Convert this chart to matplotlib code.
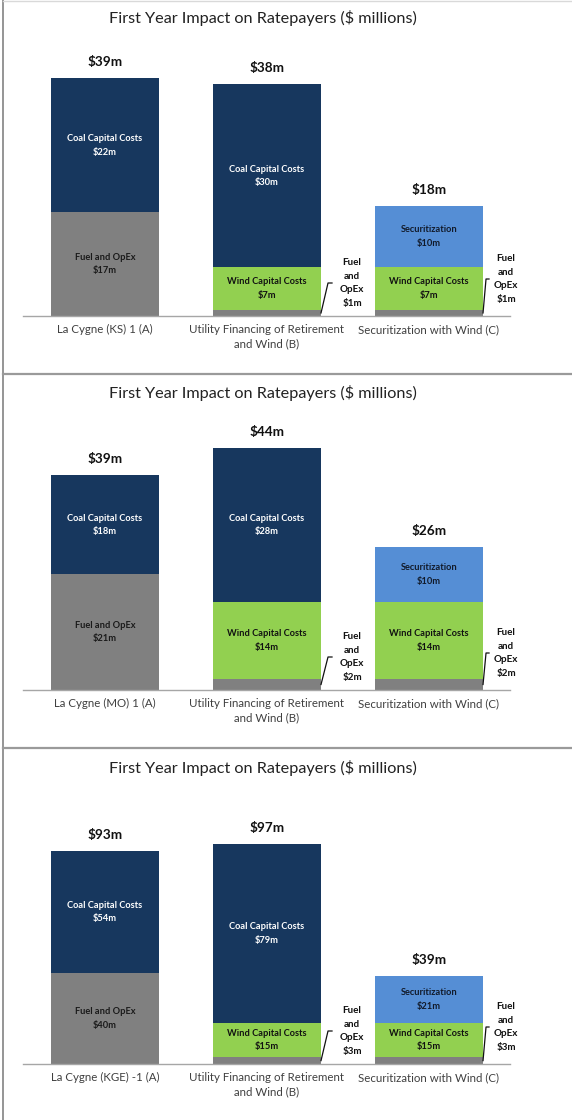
import matplotlib
matplotlib.use("Agg")
import matplotlib.pyplot as plt
from matplotlib.lines import Line2D
from matplotlib.transforms import IdentityTransform

plt.rcParams['font.family'] = ['Lato', 'DejaVu Sans']

# ---------------- data ----------------
panel_categories = [
    ["La Cygne (KS) 1 (A)", "Utility Financing of Retirement\nand Wind (B)", "Securitization with Wind (C)"],
    ["La Cygne (MO) 1 (A)", "Utility Financing of Retirement\nand Wind (B)", "Securitization with Wind (C)"],
    ["La Cygne (KGE) -1 (A)", "Utility Financing of Retirement\nand Wind (B)", "Securitization with Wind (C)"],
]
fuel_opex = [[17, 1, 1], [21, 2, 2], [40, 3, 3]]
wind_capital = [[0, 7, 7], [0, 14, 14], [0, 15, 15]]
coal_capital = [[22, 30, 0], [18, 28, 0], [54, 79, 0]]
securitization = [[0, 0, 10], [0, 0, 10], [0, 0, 21]]
totals = [[39, 38, 18], [39, 44, 26], [93, 97, 39]]
title_text = "First Year Impact on Ratepayers ($ millions)"

series_names = ["Fuel and OpEx", "Wind Capital Costs", "Coal Capital Costs", "Securitization"]
series_colors = ["#808080", "#92D050", "#17375E", "#558ED5"]
series_text_colors = ["#1a1a1a", "#111111", "#ffffff", "#111a2a"]

# ---------------- layout ----------------
W, H = 572, 1120
fig = plt.figure(figsize=(W / 100, H / 100), dpi=100)

def fx(px):
    return px / W

def fy(py):
    return 1 - py / H

baselines = [316, 690, 1064]
title_y = [18, 393, 768]
ymax = [42.0, 46.5, 113.0]
ax_left, ax_right, ax_h = 23, 510, 256
bar_w = 0.667

# panel borders
fig.add_artist(Line2D([fx(3), fx(3)], [0, 1], color="#8c8c8c", lw=1.3, transform=fig.transFigure))
fig.add_artist(Line2D([fx(3), 1], [fy(0.5), fy(0.5)], color="#d9d9d9", lw=1.0, transform=fig.transFigure))
for sep in [374, 748]:
    fig.add_artist(Line2D([fx(3), 1], [fy(sep), fy(sep)], color="#9a9a9a", lw=1.6, transform=fig.transFigure))

for p in range(3):
    yb = baselines[p]
    ax = fig.add_axes([fx(ax_left), fy(yb), fx(ax_right) - fx(ax_left), ax_h / H])
    ax.set_xlim(-0.506, 2.5)
    ax.set_ylim(0, ymax[p])
    for s in ["top", "right", "left"]:
        ax.spines[s].set_visible(False)
    ax.spines["bottom"].set_color("#a6a6a6")
    ax.spines["bottom"].set_linewidth(1.0)
    ax.set_yticks([])
    x = list(range(3))
    ax.set_xticks(x)
    ax.set_xticklabels(panel_categories[p], fontsize=8.3, color="#404040", linespacing=1.35)
    ax.tick_params(axis="x", length=0, pad=6)

    series = [fuel_opex[p], wind_capital[p], coal_capital[p], securitization[p]]
    bottoms = [0, 0, 0]
    for si, vals in enumerate(series):
        ax.bar(x, vals, width=bar_w, bottom=bottoms, color=series_colors[si], edgecolor="none", zorder=2)
        for i, v in enumerate(vals):
            if v == 0:
                continue
            if si == 0 and i > 0:
                continue  # small fuel segments get callouts
            ax.text(x[i], bottoms[i] + v / 2, f"{series_names[si]}\n${v}m", ha="center", va="center",
                    fontsize=6.7, fontweight="bold", color=series_text_colors[si], linespacing=1.65, zorder=3)
        bottoms = [b + v for b, v in zip(bottoms, vals)]

    # totals
    for i in x:
        ax.annotate(f"${totals[p][i]}m", xy=(x[i], bottoms[i]), xytext=(0, 16), textcoords="offset pixels",
                    ha="center", va="center", fontsize=9.8, fontweight="bold", color="#111111")

    # callouts for small fuel segments
    fig.canvas.draw()
    callout = {1: (7, 33, 11, 31), 2: (3, 37, 6, 23)}
    for i, (dx1, dy, dx2, tdx) in callout.items():
        v = fuel_opex[p][i]
        xr, ym = ax.transData.transform((x[i] + bar_w / 2, v / 2))
        _, yb_disp = ax.transData.transform((x[i], 0))
        xs = [xr, xr + dx1, xr + dx2]
        ys = [ym, yb_disp + dy, yb_disp + dy]
        fig.add_artist(Line2D(xs, ys, color="#111111", lw=0.9, transform=IdentityTransform()))
        ax.annotate(f"Fuel\nand\nOpEx\n${v}m", xy=(x[i] + bar_w / 2, 0), xytext=(tdx, dy),
                    textcoords="offset pixels", ha="center", va="center", fontsize=7.1,
                    fontweight="bold", color="#111111", linespacing=1.7, annotation_clip=False)

    fig.text(fx(263), fy(title_y[p]), title_text, ha="center", va="center", fontsize=11.7, color="#222222")

fig.savefig("out.png", dpi=100)
